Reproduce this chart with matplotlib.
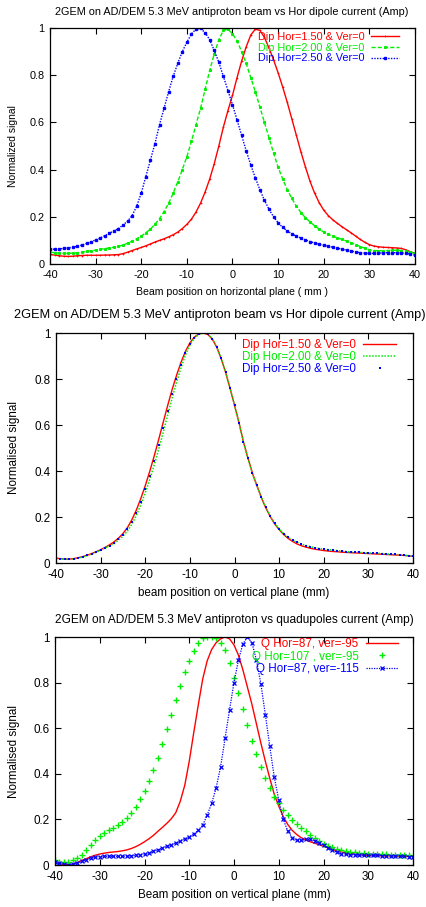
import numpy as np
import matplotlib
matplotlib.use('Agg')
import matplotlib.pyplot as plt
from matplotlib.ticker import FormatStrFormatter

plt.rcParams['font.family'] = ['Liberation Sans', 'DejaVu Sans']
plt.rcParams['axes.unicode_minus'] = False

# beam position grid (mm), 1 mm steps
pos = np.arange(-40, 41)

# --- panel 1: horizontal scan, dipole current ---
h_dip150 = [0.040, 0.038, 0.035, 0.033, 0.032, 0.033, 0.035, 0.036, 0.037, 0.037,
            0.037, 0.037, 0.038, 0.038, 0.039, 0.040, 0.044, 0.050, 0.057, 0.064,
            0.070, 0.077, 0.085, 0.093, 0.100, 0.107, 0.115, 0.124, 0.135, 0.150,
            0.168, 0.190, 0.220, 0.258, 0.305, 0.360, 0.425, 0.500, 0.580, 0.650,
            0.715, 0.790, 0.860, 0.920, 0.970, 0.995, 0.990, 0.960, 0.915, 0.865,
            0.810, 0.750, 0.685, 0.615, 0.545, 0.475, 0.410, 0.350, 0.300, 0.260,
            0.228, 0.205, 0.187, 0.172, 0.158, 0.145, 0.132, 0.118, 0.104, 0.092,
            0.082, 0.076, 0.073, 0.071, 0.070, 0.069, 0.068, 0.066, 0.060, 0.052,
            0.045]
h_dip200 = [0.050, 0.048, 0.046, 0.045, 0.045, 0.046, 0.048, 0.050, 0.053, 0.056,
            0.059, 0.062, 0.065, 0.068, 0.071, 0.075, 0.080, 0.088, 0.097, 0.107,
            0.118, 0.132, 0.148, 0.168, 0.192, 0.222, 0.258, 0.300, 0.348, 0.400,
            0.455, 0.520, 0.590, 0.660, 0.740, 0.820, 0.890, 0.950, 0.990, 0.995,
            0.975, 0.945, 0.900, 0.850, 0.790, 0.730, 0.665, 0.600, 0.535, 0.470,
            0.410, 0.360, 0.315, 0.278, 0.245, 0.218, 0.196, 0.178, 0.162, 0.148,
            0.135, 0.126, 0.118, 0.111, 0.104, 0.097, 0.090, 0.082, 0.074, 0.067,
            0.060, 0.057, 0.056, 0.056, 0.057, 0.058, 0.058, 0.057, 0.054, 0.049,
            0.045]
h_dip250 = [0.062, 0.063, 0.064, 0.066, 0.068, 0.071, 0.075, 0.080, 0.087, 0.094,
            0.102, 0.110, 0.120, 0.130, 0.140, 0.150, 0.165, 0.182, 0.205, 0.245,
            0.300, 0.370, 0.440, 0.510, 0.590, 0.660, 0.730, 0.795, 0.850, 0.900,
            0.940, 0.975, 0.995, 0.998, 0.980, 0.950, 0.905, 0.855, 0.795, 0.735,
            0.675, 0.610, 0.545, 0.480, 0.420, 0.365, 0.315, 0.270, 0.232, 0.200,
            0.175, 0.155, 0.140, 0.128, 0.118, 0.110, 0.102, 0.095, 0.089, 0.084,
            0.079, 0.075, 0.071, 0.067, 0.063, 0.059, 0.055, 0.051, 0.048, 0.046,
            0.045, 0.045, 0.046, 0.047, 0.048, 0.048, 0.048, 0.047, 0.045, 0.042,
            0.038]

# --- panel 2: vertical scan, dipole current ---
v_dip150 = [0.021, 0.019, 0.017, 0.017, 0.019, 0.023, 0.028, 0.034, 0.041, 0.049,
            0.058, 0.068, 0.079, 0.092, 0.108, 0.128, 0.154, 0.188, 0.230, 0.280,
            0.336, 0.398, 0.465, 0.536, 0.610, 0.683, 0.753, 0.815, 0.872, 0.920,
            0.957, 0.982, 0.996, 1.000, 0.994, 0.974, 0.939, 0.889, 0.829, 0.760,
            0.686, 0.611, 0.527, 0.457, 0.392, 0.337, 0.285, 0.240, 0.202, 0.170,
            0.145, 0.124, 0.107, 0.094, 0.083, 0.075, 0.069, 0.064, 0.060, 0.057,
            0.054, 0.052, 0.050, 0.049, 0.047, 0.046, 0.045, 0.044, 0.043, 0.042,
            0.041, 0.040, 0.039, 0.038, 0.037, 0.036, 0.035, 0.034, 0.033, 0.031,
            0.029]
v_dip200 = [0.020, 0.018, 0.016, 0.016, 0.018, 0.021, 0.026, 0.032, 0.039, 0.047,
            0.056, 0.065, 0.074, 0.085, 0.099, 0.117, 0.139, 0.169, 0.207, 0.253,
            0.305, 0.363, 0.426, 0.494, 0.566, 0.641, 0.716, 0.785, 0.848, 0.904,
            0.947, 0.978, 0.994, 1.000, 0.996, 0.976, 0.941, 0.891, 0.831, 0.761,
            0.686, 0.610, 0.525, 0.455, 0.390, 0.337, 0.287, 0.243, 0.205, 0.173,
            0.148, 0.128, 0.112, 0.100, 0.090, 0.082, 0.076, 0.071, 0.067, 0.063,
            0.060, 0.058, 0.056, 0.054, 0.052, 0.050, 0.048, 0.047, 0.046, 0.045,
            0.044, 0.043, 0.042, 0.041, 0.040, 0.038, 0.037, 0.035, 0.034, 0.032,
            0.030]
v_dip250 = [0.020, 0.018, 0.016, 0.016, 0.018, 0.022, 0.027, 0.033, 0.040, 0.048,
            0.057, 0.066, 0.076, 0.088, 0.103, 0.122, 0.146, 0.178, 0.218, 0.266,
            0.320, 0.380, 0.445, 0.515, 0.588, 0.662, 0.735, 0.800, 0.860, 0.912,
            0.952, 0.980, 0.995, 1.000, 0.995, 0.975, 0.940, 0.890, 0.830, 0.760,
            0.685, 0.610, 0.525, 0.455, 0.390, 0.338, 0.288, 0.243, 0.205, 0.173,
            0.148, 0.128, 0.112, 0.100, 0.090, 0.082, 0.076, 0.071, 0.067, 0.063,
            0.060, 0.058, 0.056, 0.054, 0.052, 0.050, 0.048, 0.047, 0.046, 0.045,
            0.044, 0.043, 0.042, 0.041, 0.040, 0.038, 0.037, 0.035, 0.034, 0.032,
            0.030]

# --- panel 3: vertical scan, quadrupole currents ---
q87_95 = [0.010, 0.006, 0.002, 0.001, 0.004, 0.012, 0.020, 0.028, 0.036, 0.043,
          0.048, 0.052, 0.055, 0.057, 0.059, 0.062, 0.066, 0.072, 0.080, 0.090,
          0.102, 0.115, 0.130, 0.148, 0.165, 0.183, 0.203, 0.230, 0.280, 0.350,
          0.455, 0.580, 0.700, 0.815, 0.895, 0.945, 0.975, 0.992, 1.000, 0.992,
          0.965, 0.920, 0.855, 0.780, 0.705, 0.620, 0.535, 0.455, 0.380, 0.310,
          0.258, 0.213, 0.178, 0.152, 0.134, 0.120, 0.110, 0.102, 0.096, 0.089,
          0.082, 0.075, 0.068, 0.062, 0.057, 0.053, 0.050, 0.047, 0.045, 0.043,
          0.042, 0.041, 0.041, 0.040, 0.040, 0.040, 0.039, 0.039, 0.039, 0.038,
          0.038]
q107_95 = [0.020, 0.014, 0.012, 0.014, 0.020, 0.030, 0.045, 0.065, 0.088, 0.108,
           0.128, 0.142, 0.153, 0.163, 0.176, 0.190, 0.208, 0.228, 0.255, 0.288,
           0.325, 0.368, 0.418, 0.470, 0.530, 0.595, 0.660, 0.725, 0.785, 0.845,
           0.895, 0.940, 0.975, 0.995, 1.000, 1.000, 0.995, 0.975, 0.945, 0.885,
           0.820, 0.755, 0.685, 0.612, 0.545, 0.485, 0.430, 0.382, 0.338, 0.300,
           0.270, 0.243, 0.219, 0.198, 0.180, 0.163, 0.148, 0.133, 0.118, 0.104,
           0.093, 0.085, 0.078, 0.072, 0.067, 0.063, 0.059, 0.056, 0.053, 0.051,
           0.049, 0.048, 0.048, 0.047, 0.047, 0.046, 0.046, 0.045, 0.044, 0.042,
           0.040]
q87_115 = [0.012, 0.008, 0.004, 0.002, 0.003, 0.008, 0.016, 0.024, 0.030, 0.034,
           0.037, 0.038, 0.038, 0.038, 0.038, 0.038, 0.039, 0.040, 0.042, 0.045,
           0.049, 0.054, 0.060, 0.067, 0.074, 0.082, 0.089, 0.097, 0.106, 0.115,
           0.124, 0.135, 0.152, 0.175, 0.218, 0.270, 0.338, 0.430, 0.555, 0.680,
           0.800, 0.900, 0.970, 1.000, 0.975, 0.900, 0.795, 0.660, 0.520, 0.385,
           0.285, 0.200, 0.150, 0.120, 0.109, 0.108, 0.112, 0.112, 0.107, 0.098,
           0.088, 0.076, 0.065, 0.056, 0.050, 0.047, 0.045, 0.044, 0.043, 0.043,
           0.042, 0.042, 0.042, 0.041, 0.041, 0.040, 0.040, 0.039, 0.038, 0.037,
           0.035]

RED, GREEN, BLUE = '#ff0000', '#00ee00', '#0000ff'

W, H = 427, 907
fig = plt.figure(figsize=(W / 100, H / 100), dpi=100)


def make_axes(l, r, t, b):
    # pixel box -> figure fractions
    return fig.add_axes([l / W, 1 - b / H, (r - l) / W, (b - t) / H])


def style(ax, fs):
    ax.set_xlim(-40, 40)
    ax.set_ylim(0, 1)
    ax.set_xticks(range(-40, 41, 10))
    ax.set_yticks(np.arange(0, 1.01, 0.2))
    ax.yaxis.set_major_formatter(FormatStrFormatter('%g'))
    ax.tick_params(direction='in', top=True, right=True, length=4,
                   width=0.8, labelsize=fs, pad=4)
    for s in ax.spines.values():
        s.set_linewidth(0.9)


def color_legend(leg):
    for t, c in zip(leg.get_texts(), [RED, GREEN, BLUE]):
        t.set_color(c)


# panel 1
ax1 = make_axes(50, 415, 28, 264)
ax1.plot(pos, h_dip150, color=RED, lw=1, marker='+', ms=2, mew=0.5,
         label='Dip Hor=1.50 & Ver=0')
ax1.plot(pos, h_dip200, color=GREEN, lw=1, ls=(0, (3, 1.5)), marker='s', ms=1.2,
         label='Dip Hor=2.00 & Ver=0')
ax1.plot(pos, h_dip250, color=BLUE, lw=1, ls=(0, (1, 1)), marker='s', ms=1.6,
         label='Dip Hor=2.50 & Ver=0')
style(ax1, 7.8)
fig.text(232 / W, 1 - 12 / H, '2GEM on AD/DEM 5.3 MeV antiproton beam vs Hor dipole current (Amp)',
         ha='center', va='center', fontsize=7.8)
fig.text(13 / W, 1 - 146 / H, 'Normalized signal', rotation=90,
         ha='center', va='center', fontsize=7.4)
fig.text(232 / W, 1 - 292 / H, 'Beam position on horizontal plane ( mm )',
         ha='center', va='center', fontsize=7.6)
leg = ax1.legend(loc='upper right', bbox_to_anchor=(0.975, 1.012), frameon=False,
                 markerfirst=False, fontsize=7.8, handlelength=2.6,
                 labelspacing=0.08, borderaxespad=0.2, handletextpad=0.6)
color_legend(leg)

# panel 2
ax2 = make_axes(56, 413, 333, 563)
ax2.plot(pos, v_dip150, color=RED, lw=1, label='Dip Hor=1.50 & Ver=0')
ax2.plot(pos, v_dip200, color=GREEN, lw=1.1, ls=(0, (1, 1)),
         label='Dip Hor=2.00 & Ver=0')
ax2.plot(pos, v_dip250, color=BLUE, ls='none', marker='s', ms=1.8, mew=0,
         label='Dip Hor=2.50 & Ver=0')
style(ax2, 8.4)
fig.text(220 / W, 1 - 315 / H, '2GEM on AD/DEM 5.3 MeV antiproton beam vs Hor dipole current (Amp)',
         ha='center', va='center', fontsize=9.2)
fig.text(14 / W, 1 - 448 / H, 'Normalised signal', rotation=90,
         ha='center', va='center', fontsize=8.4)
fig.text(234 / W, 1 - 593 / H, 'beam position on vertical plane (mm)',
         ha='center', va='center', fontsize=8.4)
leg = ax2.legend(loc='upper right', bbox_to_anchor=(0.975, 1.008), frameon=False,
                 markerfirst=False, fontsize=8.4, handlelength=2.8,
                 labelspacing=0.0, borderaxespad=0.3, handletextpad=0.6)
color_legend(leg)

# panel 3
ax3 = make_axes(55, 413, 637, 865)
ax3.plot(pos, q87_95, color=RED, lw=1, label='Q Hor=87, ver=-95')
ax3.plot(pos, q107_95, color=GREEN, ls='none', marker='+', ms=4, mew=1,
         label='Q Hor=107 , ver=-95')
ax3.plot(pos, q87_115, color=BLUE, lw=0.9, ls=(0, (1, 1)), marker='x', ms=3, mew=0.9,
         label='Q Hor=87, ver=-115')
style(ax3, 8.4)
fig.text(234 / W, 1 - 620 / H, '2GEM on AD/DEM 5.3 MeV antiproton vs quadupoles current (Amp)',
         ha='center', va='center', fontsize=8.6)
fig.text(14 / W, 1 - 751 / H, 'Normalised signal', rotation=90,
         ha='center', va='center', fontsize=8.4)
fig.text(234 / W, 1 - 895 / H, 'Beam position on vertical plane (mm)',
         ha='center', va='center', fontsize=8.4)
leg = ax3.legend(loc='upper right', bbox_to_anchor=(0.975, 1.02), frameon=False,
                 markerfirst=False, fontsize=8.4, handlelength=2.8,
                 labelspacing=0.02, borderaxespad=0.1, handletextpad=0.6)
color_legend(leg)

fig.savefig('out.png', dpi=100)
